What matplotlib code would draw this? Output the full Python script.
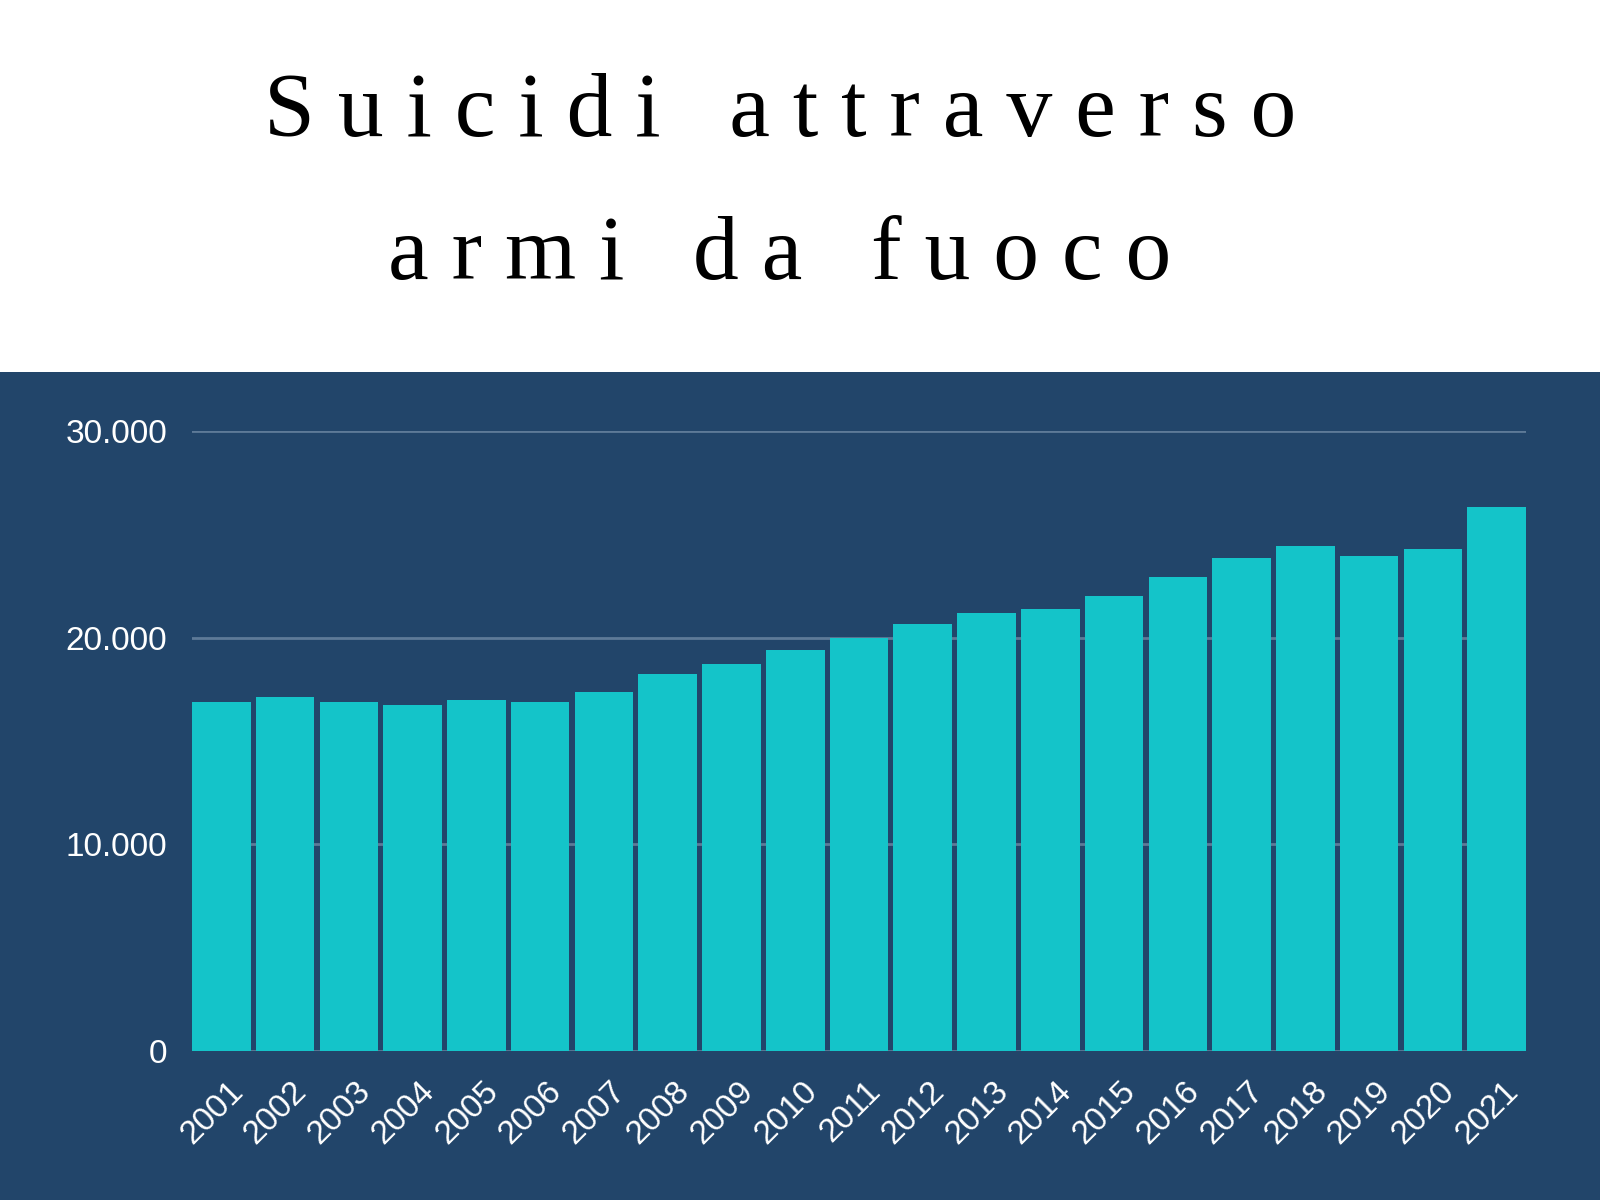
import matplotlib.pyplot as plt
from matplotlib.ticker import FuncFormatter
from matplotlib.transforms import ScaledTranslation

# dati: suicidi con armi da fuoco per anno
anni = [str(a) for a in range(2001, 2022)]
suicidi = [16869, 17108, 16907, 16750, 17002, 16883, 17352, 18223, 18735, 19392,
           19990, 20666, 21175, 21386, 22018, 22938, 23854, 24432, 23941, 24292, 26328]
y_ticks = [0, 10000, 20000, 30000]

navy = '#22456a'
cyan = '#14c4c9'
grid_col = '#5e7a98'

fig = plt.figure(figsize=(16, 12), dpi=100)
fig.patch.set_facecolor('white')

# fascia blu sotto il titolo
bg = fig.add_axes([0, 0, 1, 1 - 372 / 1200], zorder=-1)
bg.set_facecolor(navy)
bg.set_xticks([])
bg.set_yticks([])
for s in bg.spines.values():
    s.set_visible(False)

# titolo spaziato
riga1 = '   '.join(' '.join(p) for p in 'Suicidi attraverso'.split())
riga2 = '   '.join(' '.join(p) for p in 'armi da fuoco'.split())
fig.text(0.4875, 1 - 136 / 1200, riga1, ha='center', va='baseline',
         fontfamily='Liberation Serif', fontsize=66, color='black')
fig.text(0.4875, 1 - 279 / 1200, riga2, ha='center', va='baseline',
         fontfamily='Liberation Serif', fontsize=66, color='black')

ax = fig.add_axes([192 / 1600, 1 - 1051 / 1200, 1334 / 1600, 620 / 1200])
ax.set_facecolor('none')

w = 0.92
x = range(len(anni))
ax.bar(x, suicidi, width=w, color=cyan, zorder=3)

ax.set_xlim(-w / 2, len(anni) - 1 + w / 2)
ax.set_ylim(0, 30000)
ax.set_yticks(y_ticks)
ax.yaxis.set_major_formatter(FuncFormatter(lambda v, p: f'{int(v):,}'.replace(',', '.')))
ax.grid(axis='y', color=grid_col, linewidth=2, zorder=0)
ax.set_axisbelow(True)

ax.set_xticks(list(x))
ax.set_xticklabels(anni, rotation=45, ha='right', va='top', rotation_mode='anchor')

ax.tick_params(axis='both', length=0, colors='white', labelsize=24)
ax.tick_params(axis='y', pad=18)
ax.tick_params(axis='x', pad=16)
sposta = ScaledTranslation(0.06, -0.02, fig.dpi_scale_trans)
for lab in ax.get_xticklabels():
    lab.set_transform(lab.get_transform() + sposta)
for lab in ax.get_xticklabels() + ax.get_yticklabels():
    lab.set_fontfamily('Liberation Sans')
    lab.set_color('white')

for s in ax.spines.values():
    s.set_visible(False)

fig.savefig('out.png', dpi=100, facecolor=fig.get_facecolor())
